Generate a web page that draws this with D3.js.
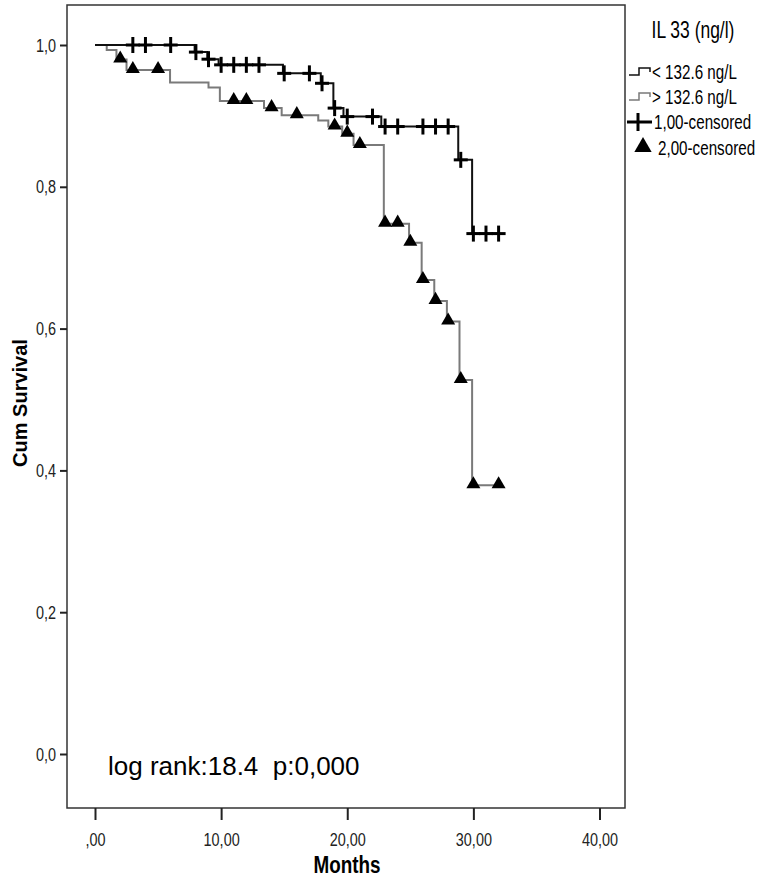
<!DOCTYPE html>
<html>
<head>
<meta charset="utf-8">
<script src="https://cdn.jsdelivr.net/npm/d3@7"></script>
<style>
  body { margin: 0; background: #fff; }
  svg { display: block; font-family: Arial, "Liberation Sans", sans-serif; }
</style>
</head>
<body>
<svg id="chart" width="760" height="881"></svg>
<script>
// group 1: IL 33 < 132.6 ng/L (black)
var lowTimes = [0, 7.9, 8.9, 9.8, 14.9, 17.9, 18.9, 19.7, 22.7, 28.8, 29.9];
var lowSurv = [1, 0.990, 0.980, 0.972, 0.960, 0.946, 0.911, 0.899, 0.885, 0.838, 0.734];
var lowCensored = [3, 4, 6, 8, 9, 10, 11, 12, 13, 15, 17, 18, 19, 20, 22, 23, 24, 26, 27, 28, 29, 30, 31, 32];
var lowEnd = 32;

// group 2: IL 33 > 132.6 ng/L (grey)
var highTimes = [0, 0.93, 1.7, 2.5, 5.95, 9.0, 9.9, 13.4, 14.8, 17.7, 18.5, 19.6, 20.5, 22.9, 24.9, 25.9, 26.9, 27.9, 28.9, 29.9];
var highSurv = [1, 0.993, 0.9795, 0.9647, 0.947, 0.940, 0.921, 0.911, 0.901, 0.8935, 0.885, 0.875, 0.859, 0.748, 0.721, 0.6685, 0.639, 0.610, 0.5275, 0.379];
var highCensored = [2, 3, 5, 11, 12, 14, 16, 19, 20, 21, 23, 24, 25, 26, 27, 28, 29, 30, 32];
var highEnd = 32;

var xTicks = [0, 10, 20, 30, 40];
var yTicks = [0, 0.2, 0.4, 0.6, 0.8, 1.0];
var legendLabels = ["< 132.6 ng/L", "> 132.6 ng/L", "1,00-censored", "2,00-censored"];

var svg = d3.select("#chart");
var frame = { left: 67, right: 625, top: 5, bottom: 808 };
var squeeze = 0.76; // narrow look of the SPSS labels

var x = d3.scaleLinear().domain([0, 40]).range([95, 599.5]);
var y = d3.scaleLinear().domain([0, 1]).range([754, 45]);

// narrow text placed at (px, py), squeezed horizontally
function narrowText(px, py, txt, size, anchor, k) {
  return svg.append("text")
    .attr("transform", "translate(" + px + "," + py + ") scale(" + (k || squeeze) + ",1)")
    .attr("text-anchor", anchor || "start")
    .attr("font-size", size)
    .text(txt);
}

// frame
svg.append("rect")
  .attr("x", frame.left).attr("y", frame.top)
  .attr("width", frame.right - frame.left).attr("height", frame.bottom - frame.top)
  .attr("fill", "none").attr("stroke", "#333").attr("stroke-width", 1.5);

// axes
var xAxis = d3.axisBottom(x).tickValues(xTicks).tickSize(12).tickPadding(13)
  .tickFormat(function (v) { return v === 0 ? ",00" : d3.format(".2f")(v).replace(".", ","); });
var gx = svg.append("g").attr("transform", "translate(0," + frame.bottom + ")").call(xAxis);
gx.select(".domain").remove();
gx.attr("font-size", 19).attr("font-family", null);
gx.selectAll(".tick line").attr("stroke", "#222").attr("stroke-width", 2);
gx.selectAll(".tick text")
  .attr("fill", "#222")
  .attr("transform", "scale(" + squeeze + ",1)");

var yAxis = d3.axisLeft(y).tickValues(yTicks).tickSize(7).tickPadding(3)
  .tickFormat(function (v) { return d3.format(".1f")(v).replace(".", ","); });
var gy = svg.append("g").attr("transform", "translate(" + frame.left + ",0)").call(yAxis);
gy.select(".domain").remove();
gy.attr("font-size", 19).attr("font-family", null);
gy.selectAll(".tick line").attr("stroke", "#222").attr("stroke-width", 2);
gy.selectAll(".tick text")
  .attr("fill", "#222")
  .attr("x", -11 / squeeze)
  .attr("transform", "scale(" + squeeze + ",1)");

// axis titles
svg.append("text")
  .attr("transform", "translate(27,403) rotate(-90)")
  .attr("text-anchor", "middle")
  .attr("font-weight", "bold").attr("font-size", 20)
  .text("Cum Survival");

narrowText(347, 873, "Months", 23, "middle", 0.82).attr("font-weight", "bold");

// survival curves
function stepPoints(times, surv, end) {
  var pts = times.map(function (t, i) { return [t, surv[i]]; });
  pts.push([end, surv[surv.length - 1]]);
  return pts;
}
function survAt(times, surv, t) {
  var i = d3.bisectRight(times, t) - 1;
  return surv[Math.max(i, 0)];
}
var line = d3.line()
  .x(function (d) { return x(d[0]); })
  .y(function (d) { return y(d[1]); })
  .curve(d3.curveStepAfter);

svg.append("path")
  .datum(stepPoints(highTimes, highSurv, highEnd))
  .attr("d", line)
  .attr("fill", "none").attr("stroke", "#7a7a7a").attr("stroke-width", 2);

svg.append("path")
  .datum(stepPoints(lowTimes, lowSurv, lowEnd))
  .attr("d", line)
  .attr("fill", "none").attr("stroke", "#111").attr("stroke-width", 2);

// censor marks
var tri = d3.symbol().type(d3.symbolTriangle).size(85);
svg.append("g").selectAll("path")
  .data(highCensored)
  .join("path")
  .attr("d", tri)
  .attr("transform", function (t) {
    return "translate(" + x(t) + "," + (y(survAt(highTimes, highSurv, t)) - 1) + ")";
  })
  .attr("fill", "#000");

var plus = svg.append("g").attr("stroke", "#000").attr("stroke-width", 3);
lowCensored.forEach(function (t) {
  var cx = x(t), cy = y(survAt(lowTimes, lowSurv, t));
  plus.append("line").attr("x1", cx - 7).attr("x2", cx + 7).attr("y1", cy).attr("y2", cy);
  plus.append("line").attr("x1", cx).attr("x2", cx).attr("y1", cy - 8).attr("y2", cy + 8);
});

// log rank annotation
svg.append("text")
  .attr("x", 108).attr("y", 775)
  .attr("font-size", 26)
  .style("white-space", "pre")
  .text("log rank:18.4  p:0,000");

// legend
narrowText(693, 38, "IL 33 (ng/l)", 23, "middle");

var legendY = [72, 97, 122, 148];
var stepIcon = function (yy) {
  return "M629," + (yy + 3) + "H639V" + (yy - 4) + "H650V" + yy;
};
svg.append("path").attr("d", stepIcon(legendY[0])).attr("fill", "none")
  .attr("stroke", "#111").attr("stroke-width", 1.5);
svg.append("path").attr("d", stepIcon(legendY[1])).attr("fill", "none")
  .attr("stroke", "#7a7a7a").attr("stroke-width", 1.5);
svg.append("line").attr("x1", 627).attr("x2", 652).attr("y1", legendY[2]).attr("y2", legendY[2])
  .attr("stroke", "#000").attr("stroke-width", 3);
svg.append("line").attr("x1", 638).attr("x2", 638).attr("y1", legendY[2] - 9).attr("y2", legendY[2] + 9)
  .attr("stroke", "#000").attr("stroke-width", 3);
svg.append("path").attr("d", d3.symbol().type(d3.symbolTriangle).size(130))
  .attr("transform", "translate(643," + (legendY[3] - 1) + ")").attr("fill", "#000");

var legendX = [652, 652, 654, 658];
legendLabels.forEach(function (d, i) {
  narrowText(legendX[i], legendY[i] + 7, d, 20, "start");
});
</script>
</body>
</html>
